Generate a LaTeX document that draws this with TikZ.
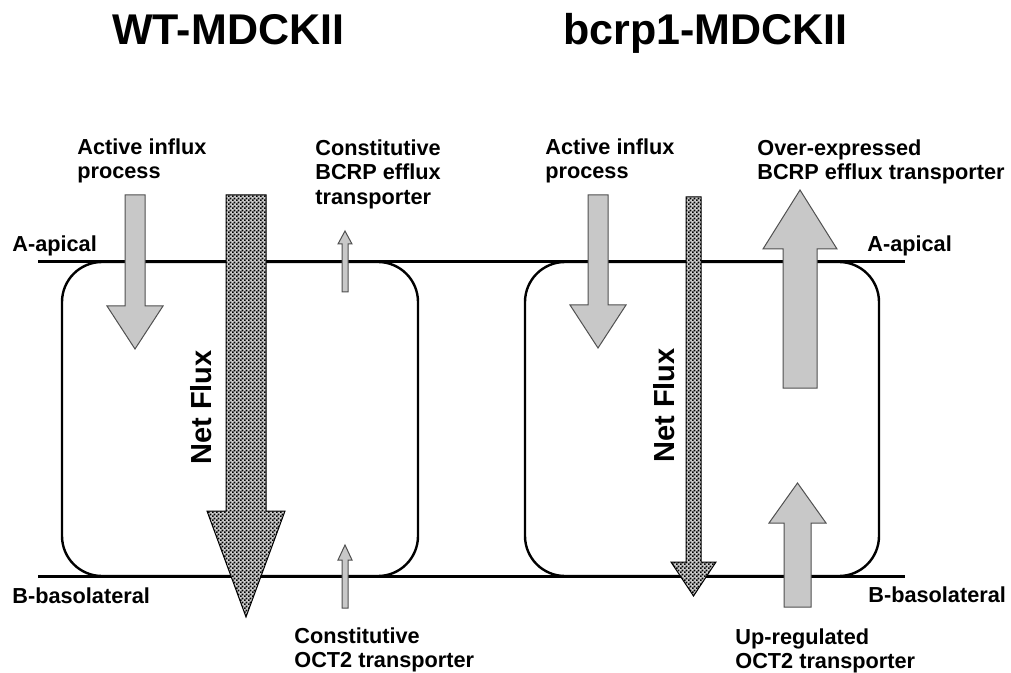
\documentclass[tikz,border=0pt]{standalone}
\usepackage{fontspec}
\setmainfont{Liberation Sans}
\usetikzlibrary{patterns.meta}
\definecolor{influxgray}{RGB}{200,200,200}
\definecolor{edgegray}{RGB}{80,80,80}

\tikzdeclarepattern{
  name=fluxcheck,
  bottom left={(0pt,0pt)},
  top right={(2pt,2pt)},
  tile size={(2pt,2pt)},
  code={
    \fill (0pt,0pt) rectangle (1.05pt,1.05pt);
    \fill (1pt,1pt) rectangle (2.05pt,2.05pt);
  }
}

\begin{document}
\begin{tikzpicture}[
    x=0.5pt, y=-0.5pt,
    lbl/.style={font=\fontsize{10.85}{12.25}\selectfont\bfseries, align=left,
        inner sep=0pt, anchor=north west},
    side/.style={font=\fontsize{10.85}{12.25}\selectfont\bfseries,
        inner sep=0pt, anchor=base west},
    ttl/.style={font=\fontsize{21.5}{24}\selectfont\bfseries,
        inner sep=0pt, anchor=base west},
    flux/.style={font=\fontsize{14.5}{16}\selectfont\bfseries,
        inner sep=0pt, anchor=base west, rotate=90},
    membrane/.style={line width=1.5pt},
    cell/.style={line width=1.2pt, rounded corners=20pt},
    grayarr/.style={fill=influxgray, draw=edgegray, line width=0.5pt},
    checkarr/.style={preaction={fill=black!20}, pattern=fluxcheck,
        draw=black, line width=0.5pt}
]
\useasboundingbox (0,0) rectangle (1011,673);

% titles
\node[ttl] (wt) at (112,45) {WT-MDCKII};
\node[ttl] (bcrp) at (563,45) {bcrp1-MDCKII};

% membranes and cells
\draw[membrane] (38,262) -- (905,262);
\draw[membrane] (38,576) -- (905,576);
\draw[cell] (62,262) rectangle (418,576);
\draw[cell] (525,262) rectangle (879,576);

\node[side] (apL) at (12,252) {A-apical};
\node[side] (apR) at (867,252) {A-apical};
\node[side] (baL) at (12,603) {B-basolateral};
\node[side] (baR) at (868,602) {B-basolateral};

% WT cell
\filldraw[grayarr] (125,195) -- (145,195) -- (145,306) -- (163,306)
    -- (135,349) -- (107,306) -- (125,306) -- cycle;
\draw[checkarr] (226,195) -- (266,195) -- (266,511) -- (285,511)
    -- (246,617) -- (207,511) -- (226,511) -- cycle;
\filldraw[grayarr] (342,292) -- (342,244) -- (338,244) -- (345,231)
    -- (352,244) -- (348,244) -- (348,292) -- cycle;
\filldraw[grayarr] (342,608) -- (342,560) -- (338,560) -- (345,545)
    -- (352,560) -- (348,560) -- (348,608) -- cycle;
\node[flux] (fluxL) at (211,465) {Net Flux};
\node[lbl] (inL) at (77,138) {Active influx\\process};
\node[lbl] (efL) at (315,139) {Constitutive\\BCRP efflux\\transporter};
\node[lbl] (ocL) at (294,627) {Constitutive\\OCT2 transporter};

% bcrp1 cell
\filldraw[grayarr] (588,195) -- (608,195) -- (608,305) -- (626,305)
    -- (598,348) -- (570,305) -- (588,305) -- cycle;
\draw[checkarr] (686,197) -- (701,197) -- (701,562) -- (716,562)
    -- (693.5,596) -- (671,562) -- (686,562) -- cycle;
\filldraw[grayarr] (783,388) -- (783,249) -- (763,249) -- (800,190)
    -- (837,249) -- (817,249) -- (817,388) -- cycle;
\filldraw[grayarr] (784,607) -- (784,523) -- (769,523) -- (797.5,483)
    -- (826,523) -- (811,523) -- (811,607) -- cycle;
\node[flux] (fluxR) at (674,463) {Net Flux};
\node[lbl] (inR) at (545,138) {Active influx\\process};
\node[lbl] (efR) at (757,139) {Over-expressed\\BCRP efflux transporter};
\node[lbl] (ocR) at (735,628) {Up-regulated\\OCT2 transporter};
\end{tikzpicture}
\end{document}
